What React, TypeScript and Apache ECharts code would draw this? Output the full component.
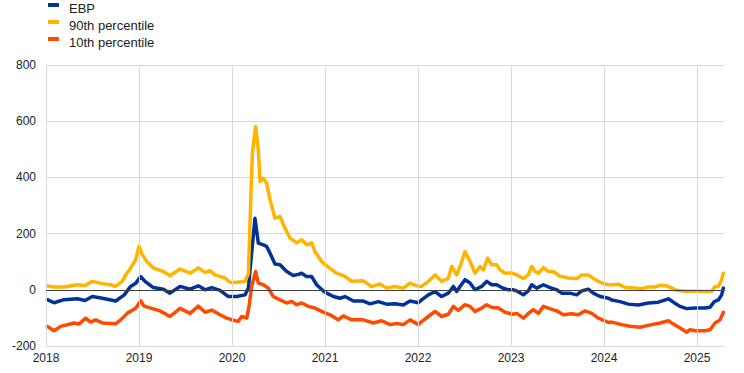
import React, { useEffect, useRef } from "react";
import * as echarts from "echarts";

const YEAR_TICKS = [2018, 2019, 2020, 2021, 2022, 2023, 2024, 2025];
const SERIES_NAMES = ["EBP", "90th percentile", "10th percentile"];
const COLORS = ["#003299", "#ffb400", "#ff4b00"];

const EBP: [number, number][] = [
  [2018.014, -35], [2018.086, -46], [2018.194, -35], [2018.337, -32], [2018.42, -38], [2018.498, -24], [2018.606, -30],
  [2018.749, -40], [2018.839, -19], [2018.91, 12], [2018.964, 23], [2019.018, 47], [2019.065, 30], [2019.154, 8],
  [2019.262, 2], [2019.333, -12], [2019.441, 12], [2019.548, 2], [2019.638, 14], [2019.71, 0], [2019.781, 8],
  [2019.871, -2], [2019.961, -24], [2020.05, -24], [2020.14, -18], [2020.176, 6], [2020.211, 130], [2020.247, 255],
  [2020.283, 166], [2020.337, 160], [2020.373, 154], [2020.409, 130], [2020.462, 92], [2020.516, 89], [2020.588, 65],
  [2020.659, 51], [2020.713, 55], [2020.749, 59], [2020.803, 47], [2020.857, 47], [2020.91, 18], [2020.982, -4],
  [2021.018, -12], [2021.09, -24], [2021.161, -30], [2021.215, -24], [2021.305, -40], [2021.412, -40], [2021.484, -50],
  [2021.573, -42], [2021.663, -51], [2021.753, -50], [2021.842, -54], [2021.914, -40], [2022.004, -46], [2022.039, -36],
  [2022.111, -18], [2022.183, -6], [2022.254, -24], [2022.326, -12], [2022.38, 12], [2022.416, -6], [2022.452, 12],
  [2022.505, 36], [2022.559, 24], [2022.613, 0], [2022.685, 12], [2022.738, 30], [2022.792, 18], [2022.846, 18],
  [2022.9, 8], [2022.971, 0], [2023.025, 0], [2023.061, -4], [2023.133, -18], [2023.186, -4], [2023.222, 18],
  [2023.276, 6], [2023.348, 18], [2023.419, 8], [2023.491, 0], [2023.545, -12], [2023.634, -12], [2023.706, -18],
  [2023.76, -4], [2023.831, 2], [2023.885, -12], [2023.957, -24], [2024.047, -30], [2024.082, -36], [2024.172, -42],
  [2024.262, -51], [2024.369, -54], [2024.477, -47], [2024.584, -44], [2024.692, -32], [2024.746, -44], [2024.817, -59],
  [2024.889, -67], [2024.978, -65], [2025.086, -65], [2025.14, -62], [2025.186, -42], [2025.229, -36], [2025.265, -18],
  [2025.283, 6],
];

const P90: [number, number][] = [
  [2018.014, 14], [2018.086, 10], [2018.194, 10], [2018.337, 18], [2018.42, 15], [2018.498, 30], [2018.606, 22],
  [2018.695, 18], [2018.749, 12], [2018.821, 30], [2018.857, 53], [2018.91, 78], [2018.964, 107], [2019.0, 155],
  [2019.036, 125], [2019.082, 101], [2019.154, 78], [2019.262, 65], [2019.333, 50], [2019.441, 74], [2019.548, 59],
  [2019.638, 78], [2019.71, 62], [2019.763, 68], [2019.817, 53], [2019.925, 42], [2019.978, 27], [2020.032, 26],
  [2020.14, 30], [2020.176, 57], [2020.204, 344], [2020.219, 486], [2020.254, 581], [2020.283, 497], [2020.301, 385],
  [2020.337, 397], [2020.373, 379], [2020.409, 320], [2020.462, 255], [2020.516, 261], [2020.57, 219], [2020.624, 184],
  [2020.695, 167], [2020.749, 178], [2020.803, 160], [2020.857, 167], [2020.892, 136], [2020.964, 101], [2021.0, 89],
  [2021.072, 72], [2021.125, 59], [2021.215, 48], [2021.287, 30], [2021.412, 32], [2021.502, 11], [2021.591, 21],
  [2021.663, 6], [2021.753, 12], [2021.842, 6], [2021.914, 24], [2021.986, 14], [2022.039, 12], [2022.111, 30],
  [2022.183, 53], [2022.254, 30], [2022.326, 41], [2022.362, 83], [2022.416, 53], [2022.452, 83], [2022.505, 136],
  [2022.559, 101], [2022.613, 59], [2022.667, 83], [2022.703, 71], [2022.749, 113], [2022.792, 89], [2022.846, 89],
  [2022.882, 71], [2022.935, 59], [2023.007, 60], [2023.061, 53], [2023.133, 40], [2023.186, 53], [2023.222, 83],
  [2023.258, 65], [2023.294, 59], [2023.348, 79], [2023.401, 65], [2023.455, 65], [2023.527, 48], [2023.616, 42],
  [2023.706, 40], [2023.76, 53], [2023.831, 53], [2023.903, 36], [2023.975, 24], [2024.047, 18], [2024.082, 18],
  [2024.154, 20], [2024.226, 8], [2024.333, 6], [2024.405, 4], [2024.477, 10], [2024.548, 10], [2024.602, 16],
  [2024.674, 14], [2024.728, 6], [2024.781, -2], [2024.871, -5], [2024.943, -5], [2025.014, -5], [2025.086, -6],
  [2025.158, -5], [2025.194, 12], [2025.229, 12], [2025.258, 30], [2025.283, 59],
];

const P10: [number, number][] = [
  [2018.014, -130], [2018.086, -146], [2018.158, -130], [2018.301, -118], [2018.355, -122], [2018.427, -101],
  [2018.48, -115], [2018.534, -107], [2018.606, -118], [2018.749, -121], [2018.803, -107], [2018.875, -83],
  [2018.964, -66], [2019.018, -39], [2019.054, -58], [2019.226, -75], [2019.333, -95], [2019.441, -66], [2019.548, -84],
  [2019.638, -58], [2019.71, -80], [2019.781, -72], [2019.871, -89], [2019.943, -101], [2020.032, -110],
  [2020.068, -112], [2020.104, -95], [2020.158, -101], [2020.183, -59], [2020.211, 12], [2020.254, 65], [2020.283, 24],
  [2020.337, 18], [2020.391, 6], [2020.444, -24], [2020.516, -36], [2020.588, -47], [2020.642, -41], [2020.695, -53],
  [2020.749, -47], [2020.821, -59], [2020.892, -65], [2020.964, -77], [2021.054, -89], [2021.143, -107],
  [2021.197, -93], [2021.287, -107], [2021.412, -107], [2021.52, -118], [2021.609, -110], [2021.699, -124],
  [2021.771, -120], [2021.842, -124], [2021.914, -107], [2022.004, -124], [2022.039, -113], [2022.111, -95],
  [2022.183, -77], [2022.254, -95], [2022.326, -87], [2022.38, -59], [2022.434, -73], [2022.505, -53], [2022.559, -59],
  [2022.613, -77], [2022.685, -65], [2022.738, -53], [2022.792, -62], [2022.864, -65], [2022.935, -80], [2023.025, -87],
  [2023.061, -84], [2023.133, -101], [2023.186, -84], [2023.24, -71], [2023.294, -84], [2023.348, -59], [2023.401, -65],
  [2023.491, -75], [2023.563, -89], [2023.652, -85], [2023.724, -89], [2023.796, -75], [2023.867, -84], [2023.939, -101],
  [2024.047, -116], [2024.082, -115], [2024.19, -124], [2024.28, -130], [2024.387, -133], [2024.513, -124],
  [2024.602, -118], [2024.692, -110], [2024.746, -122], [2024.817, -136], [2024.889, -151], [2024.925, -142],
  [2024.978, -146], [2025.086, -146], [2025.14, -142], [2025.194, -118], [2025.247, -107], [2025.283, -80],
];

const Y_MIN = -200;
const Y_MAX = 800;
const Y_STEP = 200;
const X_MIN = 2018;
const X_MAX = 2025.29;

export default function App() {
  const ref = useRef<HTMLDivElement>(null);
  useEffect(() => {
    document.body.style.margin = "0";
    if (!ref.current) return;
    const chart = echarts.init(ref.current, undefined, { renderer: "svg" });
    const font = "'Liberation Sans', Arial, sans-serif";
    const lineSeries = [EBP, P90, P10].map((d, i) => ({
      name: SERIES_NAMES[i],
      type: "line",
      data: d,
      showSymbol: false,
      symbol: "none",
      z: 3,
      lineStyle: { color: COLORS[i], width: 3.5, join: "round", cap: "round" },
      itemStyle: { color: COLORS[i] },
      emphasis: { disabled: true },
    }));
    chart.setOption({
      animation: false,
      textStyle: { fontFamily: font },
      legend: {
        data: SERIES_NAMES,
        orient: "vertical",
        left: 48,
        top: 2,
        padding: 0,
        itemGap: 4,
        itemWidth: 11,
        itemHeight: 11,
        icon: "path://M0,0H11V4H0Z M0,11H0.01V11.01H0Z",
        itemStyle: { borderWidth: 0 },
        selectedMode: false,
        textStyle: { fontSize: 13, color: "#222", fontFamily: font, padding: [0, 0, 0, 5] },
      },
      grid: { left: 46, right: 20, top: 65, bottom: 27, containLabel: false },
      xAxis: {
        type: "value",
        min: X_MIN,
        max: X_MAX,
        interval: 1,
        axisLine: { show: false },
        axisTick: { show: false },
        splitLine: { show: false },
        axisLabel: {
          fontSize: 12,
          color: "#222",
          margin: 6,
          showMaxLabel: false,
          formatter: (v: number) => (YEAR_TICKS.includes(v) ? String(v) : ""),
        },
      },
      yAxis: {
        type: "value",
        min: Y_MIN,
        max: Y_MAX,
        interval: Y_STEP,
        axisLine: { show: false },
        axisTick: { show: false },
        splitLine: { lineStyle: { color: "#d9d9d9", width: 1 } },
        axisLabel: { fontSize: 12, color: "#222", margin: 10 },
      },
      series: [
        {
          name: "grid",
          type: "line",
          data: [],
          z: 1,
          silent: true,
          markLine: {
            silent: true,
            symbol: ["none", "none"],
            label: { show: false },
            animation: false,
            data: [
              ...YEAR_TICKS.map((y) => ({ xAxis: y, lineStyle: { color: "#d9d9d9", width: 1, type: "solid" } })),
              { yAxis: 0, lineStyle: { color: "#404040", width: 1, type: "solid" } },
            ],
          },
        },
        ...lineSeries,
      ],
    });
    return () => chart.dispose();
  }, []);
  return <div ref={ref} style={{ width: 744, height: 373 }} />;
}
